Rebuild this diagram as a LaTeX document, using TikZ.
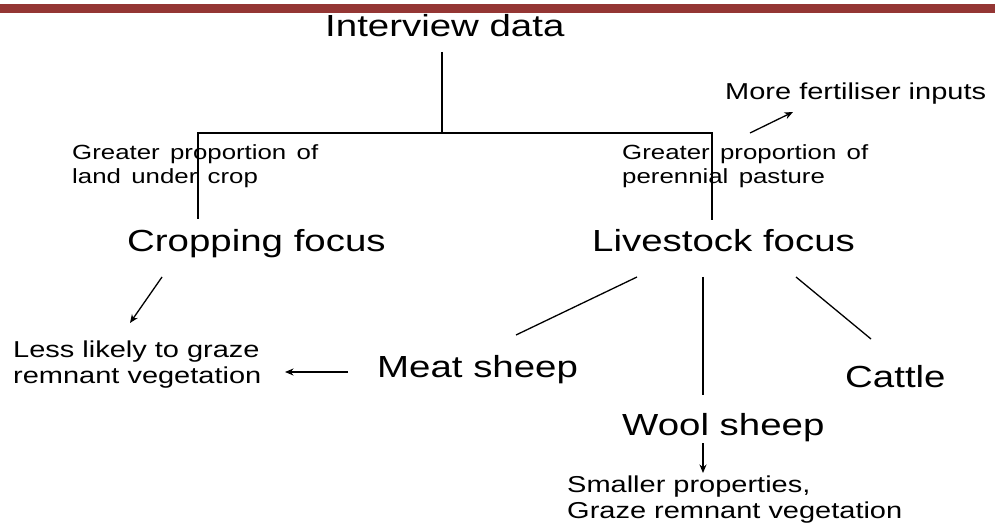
\documentclass[tikz,border=0pt]{standalone}
\usepackage{fontspec}
\setmainfont{Liberation Sans}
\usetikzlibrary{arrows.meta}
\definecolor{barred}{RGB}{148,54,52}
\newcommand\sx[1]{\scalebox{1.26}[1]{#1}}
\newcommand\twolines[2]{\begin{tabular}[t]{@{}l@{}}\sx{#1}\\\sx{#2}\end{tabular}}
\newcommand\widesp{\spaceskip=0.4em plus 0.1em\relax}
\begin{document}
\begin{tikzpicture}[x=1pt,y=-1pt,
  big/.style={inner sep=0, anchor=base west, font=\fontsize{30.5}{36}\selectfont},
  note/.style={inner sep=0, anchor=base west, font=\fontsize{20.5}{24}\selectfont},
  notel/.style={inner sep=0, anchor=base west, font=\fontsize{23}{26.5}\selectfont},
  ln/.style={line width=1.3pt, draw=black},
  arr/.style={line width=1.3pt, draw=black, -{Stealth[length=8.5pt,width=7pt]}}]
\useasboundingbox (0,0) rectangle (995,526);
\fill[barred] (0,4) rectangle (995,13);
% texts
\node[big] (interview) at (325,37) {\sx{Interview data}};
\node[big] (crop) at (127,252) {\sx{Cropping focus}};
\node[big] (live) at (592,252) {\sx{Livestock focus}};
\node[big] (meat) at (377,377) {\sx{Meat sheep}};
\node[big] (cattle) at (845,387) {\sx{Cattle}};
\node[big] (wool) at (622,435) {\sx{Wool sheep}};
\node[note] (gpl) at (72,160) {\widesp\twolines{Greater proportion of}{land under crop}};
\node[note] (gpr) at (622,160) {\widesp\twolines{Greater proportion of}{perennial pasture}};
\node[notel] (fert) at (725,100) {\sx{More fertiliser inputs}};
\node[notel] (less) at (13,357) {\twolines{Less likely to graze}{remnant vegetation}};
\node[notel] (smaller) at (567,492) {\twolines{Smaller properties,}{Graze remnant vegetation}};
% connector end points
\coordinate (iv) at (442,52);
\coordinate (jn) at (442,133);
\coordinate (cl) at (198,133);
\coordinate (cr) at (712,133);
\coordinate (ce) at (198,219);
\coordinate (le) at (712,220);
\coordinate (fa) at (750,133);
\coordinate (fb) at (793,112);
\coordinate (ca) at (162,277);
\coordinate (cb) at (130,323);
\coordinate (ma) at (348,372);
\coordinate (mb) at (285,372);
\coordinate (lm1) at (637,277);
\coordinate (lm2) at (516,335);
\coordinate (lw1) at (703,277);
\coordinate (lw2) at (703,395);
\coordinate (lc1) at (796,277);
\coordinate (lc2) at (871,339);
\coordinate (wa) at (703,443);
\coordinate (wb) at (703,473);
% connectors
\draw[ln] (iv) -- (jn);
\draw[ln] (ce) -- (cl) -- (cr) -- (le);
\draw[arr] (fa) -- (fb);
\draw[arr] (ca) -- (cb);
\draw[arr] (ma) -- (mb);
\draw[ln] (lm1) -- (lm2);
\draw[ln] (lw1) -- (lw2);
\draw[ln] (lc1) -- (lc2);
\draw[arr] (wa) -- (wb);
\end{tikzpicture}
\end{document}
